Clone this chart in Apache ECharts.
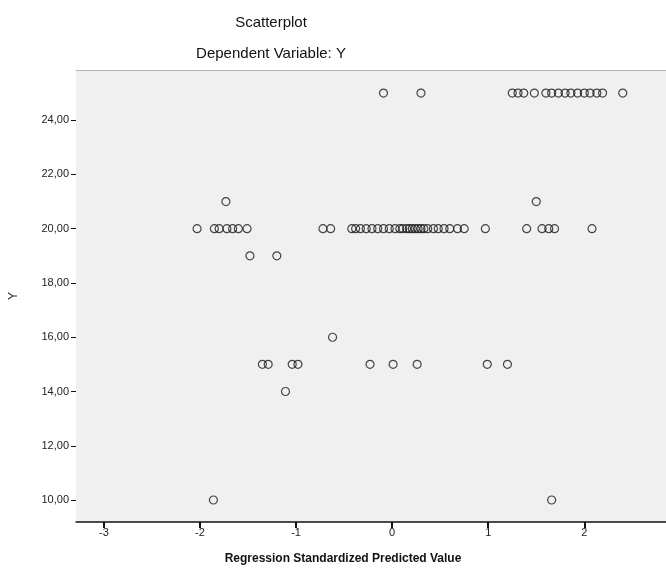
<!DOCTYPE html>
<html>
<head>
<meta charset="utf-8">
<script src="https://cdn.jsdelivr.net/npm/echarts@6/dist/echarts.min.js"></script>
<style>
  html, body { margin: 0; padding: 0; background: #fff; }
  #chart { width: 666px; height: 580px; }
</style>
</head>
<body>
<div id="chart"></div>
<script>
// standardized predicted value for each point, grouped by its Y value
const rowLevels = [25, 21, 20, 19, 16, 15, 14, 10]
const x25 = [-0.09, 0.30, 1.25, 1.31, 1.37, 1.48, 1.60, 1.66, 1.73, 1.80, 1.86, 1.93, 2.00, 2.06, 2.13, 2.19, 2.40]
const x21 = [-1.73, 1.50]
const x20 = [-2.03, -1.85, -1.80, -1.72, -1.66, -1.60, -1.51, -0.72, -0.64,
  -0.42, -0.38, -0.33, -0.27, -0.21, -0.15, -0.09, -0.03, 0.03, 0.08, 0.11, 0.15, 0.18,
  0.21, 0.24, 0.27, 0.30, 0.33, 0.37, 0.43, 0.48, 0.54, 0.60, 0.68, 0.75,
  0.97, 1.40, 1.56, 1.63, 1.69, 2.08]
const x19 = [-1.48, -1.20]
const x16 = [-0.62]
const x15 = [-1.35, -1.29, -1.04, -0.98, -0.23, 0.01, 0.26, 0.99, 1.20]
const x14 = [-1.11]
const x10 = [-1.86, 1.66]
const rowX = [x25, x21, x20, x19, x16, x15, x14, x10]

const xTicks = [-3, -2, -1, 0, 1, 2]
const yTicks = [10, 12, 14, 16, 18, 20, 22, 24]

const points = []
rowLevels.forEach((y, i) => {
  rowX[i].forEach(x => points.push([x, y]))
})

const chart = echarts.init(document.getElementById('chart'))

const option = {
  animation: false,
  backgroundColor: '#ffffff',
  title: [
    {
      text: 'Scatterplot',
      left: 266, top: 10, textAlign: 'center',
      textStyle: { fontFamily: 'Liberation Sans', fontSize: 15, fontWeight: 'normal', color: '#111' }
    },
    {
      text: 'Dependent Variable: Y',
      left: 266, top: 41, textAlign: 'center',
      textStyle: { fontFamily: 'Liberation Sans', fontSize: 15, fontWeight: 'normal', color: '#111' }
    },
    {
      text: 'Regression Standardized Predicted Value',
      left: 338, top: 548, textAlign: 'center',
      textStyle: { fontFamily: 'Liberation Sans', fontSize: 12, fontWeight: 'bold', color: '#111' }
    }
  ],
  grid: {
    left: 75, right: 0, top: 70, bottom: 58,
    show: true,
    backgroundColor: '#f0f0f0',
    borderWidth: 0
  },
  xAxis: [
    {
      type: 'value',
      min: -3.29, max: 2.85,
      axisLine: { show: true, onZero: false, lineStyle: { color: '#111', width: 1.5 } },
      axisTick: { show: true, length: 6, customValues: xTicks, lineStyle: { color: '#111', width: 2 } },
      axisLabel: {
        customValues: xTicks, margin: 5,
        fontFamily: 'Liberation Sans', fontSize: 11, color: '#222'
      },
      splitLine: { show: false }
    },
    {
      type: 'value', position: 'top',
      min: -3.29, max: 2.85,
      axisLine: { show: true, onZero: false, lineStyle: { color: '#b4b4b4', width: 1 } },
      axisTick: { show: false },
      axisLabel: { show: false },
      splitLine: { show: false }
    }
  ],
  yAxis: {
    type: 'value',
    min: 9.19, max: 25.85,
    name: 'Y',
    nameLocation: 'middle',
    nameGap: 56,
    nameRotate: 90,
    nameTextStyle: { fontFamily: 'Liberation Sans', fontSize: 12, color: '#222' },
    axisLine: { show: false, onZero: false },
    axisTick: { show: true, length: 5, customValues: yTicks, lineStyle: { color: '#111' } },
    axisLabel: {
      customValues: yTicks, margin: 7,
      fontFamily: 'Liberation Sans', fontSize: 11, color: '#222',
      formatter: v => v.toFixed(2).replace('.', ',')
    },
    splitLine: { show: false }
  },
  series: [
    {
      type: 'scatter',
      data: points,
      symbol: 'circle',
      symbolSize: 8,
      itemStyle: { color: 'rgba(0,0,0,0)', borderColor: '#1a1a1a', borderWidth: 1.2 }
    }
  ]
}

chart.setOption(option)
</script>
</body>
</html>
